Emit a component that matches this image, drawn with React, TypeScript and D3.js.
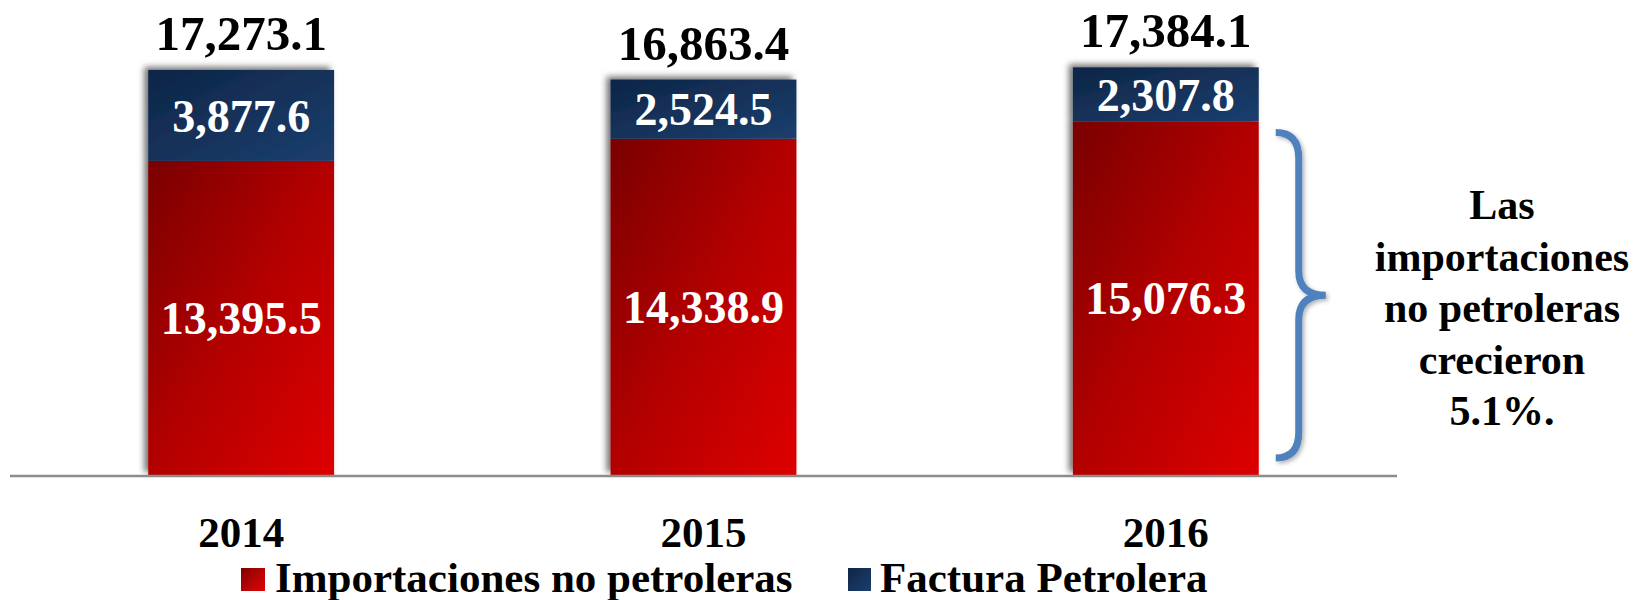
import React from "react";
import * as d3 from "d3";

const years = ["2014", "2015", "2016"];
const noPetroleras = [13395.5, 14338.9, 15076.3];
const facturaPetrolera = [3877.6, 2524.5, 2307.8];
const totals = [17273.1, 16863.4, 17384.1];
const seriesNames = ["Importaciones no petroleras", "Factura Petrolera"];
const noteLines = ["Las", "importaciones", "no petroleras", "crecieron", "5.1%."];

const W = 1637;
const H = 600;
const FONT = "'Liberation Serif', 'Times New Roman', serif";

export default function App() {
  const x = d3
    .scaleBand<string>()
    .domain(years)
    .range([10, 1397])
    .paddingInner(0.598)
    .paddingOuter(0.299);
  const y = d3.scaleLinear().domain([0, 20000]).range([475, 6]);
  const fmt = d3.format(",.1f");
  const bw = x.bandwidth();

  const last = years.length - 1;
  const bTop = y(noPetroleras[last]) + 11;
  const bBot = y(0) - 17;
  const bMid = (bTop + bBot) / 2;
  const bx0 = (x(years[last]) as number) + bw + 17;
  const bx1 = bx0 + 23;
  const bx2 = bx0 + 50;
  const brace = `M${bx0},${bTop} Q${bx1},${bTop} ${bx1},${bTop + 26} L${bx1},${bMid - 24} Q${bx1},${bMid} ${bx2},${bMid} Q${bx1},${bMid} ${bx1},${bMid + 24} L${bx1},${bBot - 26} Q${bx1},${bBot} ${bx0},${bBot}`;

  return (
    <svg
      width={W}
      height={H}
      style={{ position: "absolute", left: 0, top: 0, display: "block", background: "#fff" }}
      fontFamily={FONT}
      fontWeight="bold"
    >
      <defs>
        <linearGradient id="gRed" x1="0" y1="0" x2="1" y2="1">
          <stop offset="0" stopColor="#7a0000" />
          <stop offset="0.5" stopColor="#b30404" />
          <stop offset="1" stopColor="#de0606" />
        </linearGradient>
        <linearGradient id="gBlue" x1="0" y1="0" x2="1" y2="1">
          <stop offset="0" stopColor="#0e2546" />
          <stop offset="1" stopColor="#1b3f6e" />
        </linearGradient>
        <filter id="shadow" x="-20%" y="-10%" width="140%" height="120%">
          <feDropShadow dx="-4" dy="-3" stdDeviation="3" floodColor="#000" floodOpacity="0.55" />
        </filter>
        <filter id="shadowB" x="-50%" y="-10%" width="200%" height="120%">
          <feDropShadow dx="2" dy="2" stdDeviation="2" floodColor="#000" floodOpacity="0.3" />
        </filter>
      </defs>

      {/* bars */}
      {years.map((yr, i) => {
        const x0 = x(yr) as number;
        const redTop = y(noPetroleras[i]);
        const blueTop = y(noPetroleras[i] + facturaPetrolera[i]);
        return (
          <g key={yr}>
            <g filter="url(#shadow)">
              <rect x={x0} y={redTop} width={bw} height={y(0) - redTop} fill="url(#gRed)" />
              <rect x={x0} y={blueTop} width={bw} height={redTop - blueTop} fill="url(#gBlue)" />
            </g>
            <text
              x={x0 + bw / 2}
              y={(redTop + y(0)) / 2}
              dy="0.35em"
              textAnchor="middle"
              fill="#fff"
              fontSize={46}
            >
              {fmt(noPetroleras[i])}
            </text>
            <text
              x={x0 + bw / 2}
              y={(redTop + blueTop) / 2}
              dy="0.35em"
              textAnchor="middle"
              fill="#fff"
              fontSize={46}
            >
              {fmt(facturaPetrolera[i])}
            </text>
            <text
              x={x0 + bw / 2}
              y={y(totals[i]) - 20}
              textAnchor="middle"
              fill="#000"
              fontSize={49}
            >
              {fmt(totals[i])}
            </text>
            <text x={x0 + bw / 2} y={547} textAnchor="middle" fill="#000" fontSize={43}>
              {yr}
            </text>
          </g>
        );
      })}

      {/* axis line */}
      <line x1={10} x2={1397} y1={y(0) + 1} y2={y(0) + 1} stroke="#8c8c8c" strokeWidth={2.5} />

      {/* brace */}
      <path d={brace} fill="none" stroke="#4f81bd" strokeWidth={7} strokeLinecap="butt" filter="url(#shadowB)" />

      {/* annotation */}
      {noteLines.map((t, i) => (
        <text key={t} x={1502} y={219 + i * 51.5} textAnchor="middle" fill="#000" fontSize={42}>
          {t}
        </text>
      ))}

      {/* legend */}
      <g>
        <rect x={241} y={568} width={24} height={23} fill="url(#gRed)" />
        <text x={275} y={592} fill="#000" fontSize={43}>
          {seriesNames[0]}
        </text>
        <rect x={848} y={568} width={23} height={23} fill="url(#gBlue)" />
        <text x={880} y={592} fill="#000" fontSize={43}>
          {seriesNames[1]}
        </text>
      </g>
    </svg>
  );
}
